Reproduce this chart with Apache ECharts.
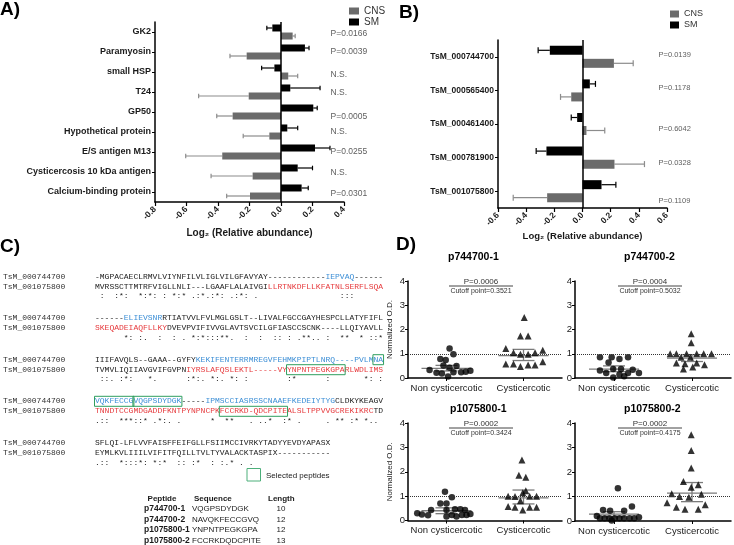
<!DOCTYPE html>
<html>
<head>
<meta charset="utf-8">
<script src="https://cdn.jsdelivr.net/npm/echarts@6.0.0/dist/echarts.min.js"></script>
<style>
html, body { margin: 0; padding: 0; background: #fff; }
#main { width: 734px; height: 545px; }
</style>
</head>
<body>
<div id="main"></div>
<script>
// A) proteins, log2 relative abundance
const proteinsA = ['GK2', 'Paramyosin', 'small HSP', 'T24', 'GP50', 'Hypothetical protein',
    'E/S antigen M13', 'Cysticercosis 10 kDa antigen', 'Calcium-binding protein'];
const smA = [-0.055, 0.152, -0.042, 0.059, 0.205, 0.04, 0.216, 0.106, 0.131];
const smErrA = [-0.09, 0.178, -0.123, 0.248, 0.23, 0.106, 0.311, 0.2, 0.173];
const cnsA = [0.074, -0.218, 0.046, -0.205, -0.307, -0.074, -0.373, -0.18, -0.197];
const cnsErrA = [0.09, -0.324, 0.106, -0.523, -0.408, -0.24, -0.605, -0.444, -0.345];
const pA = ['P=0.0166', 'P=0.0039', 'N.S.', 'N.S.', 'P=0.0005', 'N.S.', 'P=0.0255', 'N.S.', 'P=0.0301'];
const rangeA = [-0.8, 0.4];

// B) genes
const genesB = ['TsM_000744700', 'TsM_000565400', 'TsM_000461400', 'TsM_000781900', 'TsM_001075800'];
const smB = [-0.232, 0.052, -0.038, -0.256, 0.135];
const smErrB = [-0.315, 0.092, -0.08, -0.329, 0.237];
const cnsB = [0.223, -0.08, 0.028, 0.227, -0.251];
const cnsErrB = [0.36, -0.156, 0.158, 0.44, -0.492];
const pB = ['P=0.0139', 'P=0.1178', 'P=0.6042', 'P=0.0328', 'P=0.1109'];
const rangeB = [-0.6, 0.6];

// C) alignment
const seqNames = ['TsM_000744700', 'TsM_001075800'];
const alignBlocks = [
    [
        [['k', '-MGPACAECLRMVLVIYNFILVLIGLVILGFAVYAY------------'], ['b', 'IEPVAQ'], ['k', '------']],
        [['k', 'MVRSSCTTMTRFVIGLLNLI---LGAAFLALAIVGI'], ['r', 'LLRTNKDFLLKFATNLSERFLSQA']],
        ' :  :*:  *' + ':*: : *:* ' + '.:*.:*: .:' + '*: .      ' + '          ' + ' :::'
    ],
    [
        [['k', '------'], ['b', 'ELIEVSNR'], ['k', 'RTIATVVLFVLMGLGSLT--LIVALFGCCGAYHESPCLLATYFIFL']],
        [['r', 'SKEQADEIAQFLLKY'], ['k', 'DVEVPVIFIVVGLAVTSVCILGFIASCCSCNK----LLQIYAVLL']],
        '      *: :' + '.  :  : . ' + '*:*:::**. ' + ' :  :  :: ' + ': .**.. : ' + ' **  * ::*'
    ],
    [
        [['k', 'IIIFAVQLS--GAAA--GYFY'], ['b', 'KEKIFENTERRMREGVFEHMKPIPTLNRQ----PVLMNA']],
        [['k', 'TVMVLIQIIAVGVIFGVPN'], ['r', 'IYRSLAFQSLEKTL-----VYYNPNTPEGKGPARLWDLIMS']],
        ' ::. :*:  ' + ' *.      :' + '*:. *:. *:' + ' :        ' + ':*      : ' + '      *: :'
    ],
    [
        [['b', 'VQKFECCGVQGPSDYDGK'], ['k', '-----'], ['b', 'IPMSCCIASRSSCNAAEFKEDEIYTYG'], ['k', 'CLDKYKEAGV']],
        [['r', 'TNNDTCCGMDGADDFKNTPYNPNCPKFCCRKD-QDCPITEALSLTPPVVGCREKIKRC'], ['k', 'TD']],
        '.::  ***::' + '* .*:. .  ' + '    *  ** ' + '  . ..*  :' + '* .     . ' + '** :* *.. '
    ],
    [
        [['k', 'SFLQI-LFLVVFAISFFEIFGLLFSIIMCCIVRKYTADYYEVDYAPASX']],
        [['k', 'EYMLKVLIIILVIFITFQILLTVLTYVALACKTASPIX-----------']],
        '.::  *:::*' + ': *:*  :: ' + ':*  : :.* ' + '. .'
    ]
];
// selected peptides: [block, line, first char, length]
const peptideBoxes = [[2, 0, 58, 2], [2, 1, 40, 12], [3, 0, 0, 8], [3, 0, 8, 10], [3, 1, 26, 14]];
const pepNames = ['p744700-1', 'p744700-2', 'p1075800-1', 'p1075800-2'];
const pepSeqs = ['VQGPSDYDGK', 'NAVQKFECCGVQ', 'YNPNTPEGKGPA', 'FCCRKDQDCPITE'];
const pepLens = ['10', '12', '12', '13'];

// D) ELISA
const groupsD = ['Non cysticercotic', 'Cysticercotic'];
const yRangeD = [0, 4];
const titlesD = ['p744700-1', 'p744700-2', 'p1075800-1', 'p1075800-2'];
const pD = ['P=0.0006', 'P=0.0004', 'P=0.0002', 'P=0.0002'];
const cutoffD = ['Cutoff point=0.3521', 'Cutoff point=0.5032', 'Cutoff point=0.3424', 'Cutoff point=0.4175'];

const nonD1 = [[0.28, 0.33], [0.37, 0.22], [0.44, 0.19], [0.42, 0.78], [0.49, 0.74], [0.54, 1.22], [0.59, 0.98],
    [0.63, 0.49], [0.54, 0.42], [0.46, 0.52], [0.59, 0.24], [0.69, 0.24], [0.75, 0.26], [0.81, 0.30], [0.52, 0.06]];
const cysD1 = [[1.51, 2.50], [1.46, 1.73], [1.56, 1.73], [1.27, 1.22], [1.37, 1.04], [1.46, 0.98], [1.56, 0.98],
    [1.65, 1.04], [1.75, 1.14], [1.27, 0.58], [1.37, 0.58], [1.46, 0.47], [1.56, 0.54], [1.65, 0.54], [1.75, 0.67]];
const statD1 = [[0.5, 0.40, 0.29, 0.52], [1.5, 0.92, 0.72, 1.18]];

const nonD2 = [[0.32, 0.86], [0.47, 0.86], [0.57, 0.78], [0.68, 0.86], [0.43, 0.64], [0.32, 0.31], [0.40, 0.21],
    [0.49, 0.37], [0.59, 0.37], [0.68, 0.21], [0.74, 0.34], [0.82, 0.21], [0.49, 0.02], [0.57, 0.14], [0.63, 0.07]];
const cysD2 = [[1.49, 1.82], [1.49, 1.45], [1.22, 1.0], [1.30, 1.0], [1.43, 1.0], [1.56, 1.0], [1.65, 1.0], [1.75, 1.0],
    [1.36, 0.86], [1.48, 0.86], [1.30, 0.62], [1.41, 0.59], [1.56, 0.62], [1.66, 0.55], [1.39, 0.37], [1.51, 0.45]];
const statD2 = [[0.5, 0.37, 0.26, 0.50], [1.5, 0.82, 0.68, 0.96]];

const nonD3 = [[0.12, 0.30], [0.18, 0.25], [0.26, 0.22], [0.30, 0.43], [0.42, 0.70], [0.50, 0.70], [0.48, 1.18],
    [0.57, 0.95], [0.50, 0.43], [0.61, 0.46], [0.68, 0.46], [0.74, 0.43], [0.50, 0.16], [0.57, 0.23], [0.63, 0.16],
    [0.70, 0.23], [0.76, 0.23], [0.81, 0.27]];
const cysD3 = [[1.48, 2.48], [1.44, 1.86], [1.53, 1.77], [1.53, 1.22], [1.30, 1.0], [1.39, 0.98], [1.49, 1.14],
    [1.58, 1.0], [1.67, 1.0], [1.46, 0.81], [1.30, 0.57], [1.39, 0.54], [1.49, 0.43], [1.58, 0.54], [1.67, 0.54]];
const statD3 = [[0.5, 0.40, 0.28, 0.52], [1.5, 0.93, 0.68, 1.25]];

const nonD4 = [[0.55, 1.34], [0.36, 0.45], [0.45, 0.42], [0.63, 0.42], [0.73, 0.59], [0.28, 0.20], [0.32, 0.11],
    [0.38, 0.11], [0.44, 0.11], [0.51, 0.11], [0.57, 0.11], [0.63, 0.11], [0.70, 0.11], [0.76, 0.11], [0.82, 0.15],
    [0.47, 0.02]];
const cysD4 = [[1.49, 3.52], [1.49, 2.88], [1.49, 2.16], [1.39, 1.61], [1.58, 1.48], [1.49, 1.38], [1.24, 1.11],
    [1.62, 1.09], [1.34, 1.0], [1.46, 0.97], [1.18, 0.75], [1.30, 0.56], [1.41, 0.48], [1.58, 0.48], [1.67, 0.66]];
const statD4 = [[0.5, 0.28, 0.17, 0.38], [1.5, 1.14, 0.79, 1.57]];

const nonD = [nonD1, nonD2, nonD3, nonD4];
const cysD = [cysD1, cysD2, cysD3, cysD4];
const statD = [statD1, statD2, statD3, statD4];

// ---------------------------------------------------------------
const SANS = '"Liberation Sans", Arial, sans-serif';
const MONO = '"Liberation Mono", "Courier New", monospace';
const INK = '#1a1a1a';
const CNS_COLOR = '#6b6b6b';
const CNS_ERR = '#8c8c8c';

const chart = echarts.init(document.getElementById('main'));

//误差线 (one-sided whisker with cap)
function errBars(ax, vals, errs, offset, color, cap) {
    return {
        type: 'custom', xAxisIndex: ax, yAxisIndex: ax, silent: true, z: 1, clip: false,
        data: vals.map((v, i) => [i, v, errs[i]]),
        encode: { x: [1, 2], y: 0 },
        renderItem: function (params, api) {
            const a = api.coord([api.value(1), api.value(0)]);
            const b = api.coord([api.value(2), api.value(0)]);
            const y = a[1] + offset;
            const st = { stroke: color, lineWidth: 1.2 };
            return {
                type: 'group', children: [
                    { type: 'line', shape: { x1: a[0], y1: y, x2: b[0], y2: y }, style: st },
                    { type: 'line', shape: { x1: b[0], y1: y - cap, x2: b[0], y2: y + cap }, style: st }
                ]
            };
        }
    };
}

// p-value labels next to each row
function pLabels(ax, texts, xPos, fontSize, offsets) {
    return {
        type: 'scatter', name: 'p' + ax, xAxisIndex: ax, yAxisIndex: ax, symbolSize: 0, silent: true,
        data: texts.map((t, i) => ({ value: [xPos, i], label: { offset: [0, offsets[i]] } })),
        label: {
            show: true, position: 'right', distance: 0, fontSize: fontSize, color: '#333', fontFamily: SANS,
            formatter: p => texts[p.dataIndex]
        }
    };
}

function zeroLine() {
    return {
        silent: true, symbol: ['none', 'none'], label: { show: false },
        lineStyle: { color: '#000', type: 'solid', width: 1.5 },
        data: [{ xAxis: 0 }]
    };
}

// mean +/- SEM marks
function meanSem(xAx, yAx, rows) {
    return {
        type: 'custom', xAxisIndex: xAx, yAxisIndex: yAx, silent: true, z: 3, clip: false,
        data: rows, encode: { x: 0, y: [1, 2, 3] },
        renderItem: function (params, api) {
            const m = api.coord([api.value(0), api.value(1)]);
            const lo = api.coord([api.value(0), api.value(2)]);
            const hi = api.coord([api.value(0), api.value(3)]);
            const st = { stroke: '#7a7a7a', lineWidth: 1.3 };
            return {
                type: 'group', children: [
                    { type: 'line', shape: { x1: m[0] - 25, y1: m[1], x2: m[0] + 25, y2: m[1] }, style: st },
                    { type: 'line', shape: { x1: m[0] - 11, y1: lo[1], x2: m[0] + 11, y2: lo[1] }, style: st },
                    { type: 'line', shape: { x1: m[0] - 11, y1: hi[1], x2: m[0] + 11, y2: hi[1] }, style: st },
                    { type: 'line', shape: { x1: m[0], y1: lo[1], x2: m[0], y2: hi[1] }, style: st }
                ]
            };
        }
    };
}

const axisLineBlack = { show: true, onZero: false, lineStyle: { color: '#000', width: 1.5 } };
const tickBlack = { show: true, length: 4, lineStyle: { color: '#000', width: 1.2 } };

function valueAxisAB(grid, range, nameGap, nameSize) {
    return {
        type: 'value', gridIndex: grid, min: range[0], max: range[1], interval: 0.2,
        axisLine: axisLineBlack, axisTick: tickBlack, splitLine: { show: false },
        axisLabel: {
            rotate: 45, fontSize: 8.5, fontWeight: 'bold', color: INK, fontFamily: SANS, margin: 6,
            formatter: v => v.toFixed(1)
        },
        name: 'Log\u2082 (Relative abundance)', nameLocation: 'middle', nameGap: nameGap,
        nameTextStyle: { fontSize: nameSize, fontWeight: 'bold', color: INK, fontFamily: SANS }
    };
}

function catAxisAB(grid, data, fontSize) {
    return {
        type: 'category', gridIndex: grid, data: data, inverse: true,
        axisLine: axisLineBlack, axisTick: { show: true, alignWithLabel: true, length: 3, lineStyle: { color: '#000' } },
        axisLabel: { fontSize: fontSize, fontWeight: 'bold', color: INK, fontFamily: SANS, margin: 4, interval: 0 }
    };
}

// D grids
const dGrids = [
    { left: 408, top: 281, width: 154, height: 97 },
    { left: 575, top: 281, width: 156, height: 97 },
    { left: 408, top: 423, width: 154, height: 97.5 },
    { left: 575, top: 423, width: 156, height: 98 }
];

const grids = [
    { left: 155, top: 22, width: 189, height: 180 },
    { left: 498, top: 40, width: 169, height: 168 }
].concat(dGrids);

const xAxes = [valueAxisAB(0, rangeA, 26, 10), valueAxisAB(1, rangeB, 23, 9.5)];
const yAxes = [catAxisAB(0, proteinsA, 9), catAxisAB(1, genesB, 8.5)];
const series = [
    {
        type: 'bar', name: 'SM', xAxisIndex: 0, yAxisIndex: 0, data: smA, barWidth: 7, barGap: '15%',
        itemStyle: { color: '#000' }, markLine: zeroLine(), z: 2
    },
    { type: 'bar', name: 'CNS', xAxisIndex: 0, yAxisIndex: 0, data: cnsA, barWidth: 7, barGap: '15%', itemStyle: { color: CNS_COLOR }, z: 2 },
    errBars(0, smA, smErrA, -4, '#000', 2.3),
    errBars(0, cnsA, cnsErrA, 4, CNS_ERR, 2.3),
    pLabels(0, pA, 0.315, 8.5, [2, 0, 3, 1, 4.5, 0, 0, 0.5, 1.5]),
    {
        type: 'bar', name: 'SM', xAxisIndex: 1, yAxisIndex: 1, data: smB, barWidth: 9, barGap: '45%',
        itemStyle: { color: '#000' }, markLine: zeroLine(), z: 2
    },
    { type: 'bar', name: 'CNS', xAxisIndex: 1, yAxisIndex: 1, data: cnsB, barWidth: 9, barGap: '45%', itemStyle: { color: CNS_COLOR }, z: 2 },
    errBars(1, smB, smErrB, -6.5, '#000', 3),
    errBars(1, cnsB, cnsErrB, 6.5, CNS_ERR, 3),
    pLabels(1, pB, 0.54, 7.5, [-2, -2, 5, 5, 10])
];

dGrids.forEach((g, k) => {
    const gi = k + 2;
    const catIdx = xAxes.length;
    xAxes.push({
        type: 'category', gridIndex: gi, data: groupsD,
        axisLine: { show: true, lineStyle: { color: '#000', width: 1.5 } },
        axisTick: { show: true, alignWithLabel: true, length: 3, lineStyle: { color: '#000' } },
        axisLabel: { fontSize: 9.5, color: INK, fontFamily: SANS, margin: 5, interval: 0 }
    });
    xAxes.push({ type: 'value', gridIndex: gi, min: 0, max: 2, show: false });
    yAxes.push({
        type: 'value', gridIndex: gi, min: yRangeD[0], max: yRangeD[1], interval: 1,
        axisLine: { show: true, lineStyle: { color: '#000', width: 1.5 } },
        axisTick: { show: true, length: 3, lineStyle: { color: '#000' } },
        splitLine: { show: false },
        axisLabel: { fontSize: 9.5, color: INK, fontFamily: SANS, margin: 3 },
        name: (k % 2 === 0) ? 'Normalized O.D.' : '', nameLocation: 'middle', nameGap: 14,
        nameTextStyle: { fontSize: 8, color: INK, fontFamily: SANS }
    });
    const xv = catIdx + 1, yv = k + 2;
    series.push({
        type: 'scatter', name: 'non' + k, xAxisIndex: xv, yAxisIndex: yv, data: nonD[k],
        symbol: 'circle', symbolSize: 6.5, itemStyle: { color: '#000' }, silent: true, z: 4,
        markLine: {
            silent: true, symbol: ['none', 'none'], label: { show: false },
            lineStyle: { color: '#333', type: 'dotted', width: 1 }, data: [{ yAxis: 1 }]
        }
    });
    series.push({
        type: 'scatter', name: 'cys' + k, xAxisIndex: xv, yAxisIndex: yv, data: cysD[k],
        symbol: 'triangle', symbolSize: 7, itemStyle: { color: '#000' }, silent: true, z: 4
    });
    series.push(meanSem(xv, yv, statD[k]));
});

// ---- graphic texts
const graphics = [];
function txt(x, y, text, opt) {
    graphics.push({
        type: 'text', x: x, y: y, silent: true,
        style: Object.assign({ text: text, fill: INK, fontFamily: SANS, fontSize: 9, align: 'left', verticalAlign: 'middle' }, opt || {})
    });
}
function rule(x1, x2, y, color) {
    graphics.push({ type: 'line', silent: true, shape: { x1: x1, y1: y, x2: x2, y2: y }, style: { stroke: color || '#333', lineWidth: 1 } });
}

const panelFont = { fontSize: 19, fontWeight: 'bold', fill: '#000' };
txt(0, 10, 'A)', panelFont);
txt(399, 13, 'B)', panelFont);
txt(0, 247, 'C)', panelFont);
txt(396, 245, 'D)', panelFont);

// C) alignment
const SEQ_FONT = 8;
const ctx = document.createElement('canvas').getContext('2d');
ctx.font = SEQ_FONT + 'px ' + MONO;
const cw = ctx.measureText('MMMMMMMMMM').width / 10;
const seqX = 95;
const colors = { k: '#222', b: '#3d8fd6', r: '#e63a3d' };
alignBlocks.forEach((block, b) => {
    const y0 = 276.5 + 41.6 * b;
    [0, 1].forEach(li => {
        const y = y0 + li * 10;
        txt(3, y, seqNames[li], { fontFamily: MONO, fontSize: SEQ_FONT, fill: '#333' });
        let pos = 0;
        block[li].forEach(seg => {
            txt(seqX + pos * cw, y, seg[1], { fontFamily: MONO, fontSize: SEQ_FONT, fill: colors[seg[0]] });
            pos += seg[1].length;
        });
    });
    txt(seqX, y0 + 19.5, block[2], { fontFamily: MONO, fontSize: SEQ_FONT, fill: '#222' });
});
peptideBoxes.forEach(bx => {
    const y = 276.5 + 41.6 * bx[0] + bx[1] * 10;
    graphics.push({
        type: 'rect', silent: true,
        shape: { x: seqX + bx[2] * cw - 0.5, y: y - 5, width: bx[3] * cw + 1, height: 10 },
        style: { fill: 'none', stroke: '#2f9e5e', lineWidth: 1 }
    });
});
graphics.push({
    type: 'rect', silent: true, shape: { x: 247, y: 468.5, width: 13.5, height: 12.5 },
    style: { fill: 'none', stroke: '#4caf7a', lineWidth: 1 }
});
txt(266, 476, 'Selected peptides', { fontSize: 8 });

// peptide table
txt(162, 499, 'Peptide', { fontSize: 8, fontWeight: 'bold', align: 'center' });
txt(194, 499, 'Sequence', { fontSize: 8, fontWeight: 'bold' });
txt(268, 499, 'Length', { fontSize: 8, fontWeight: 'bold' });
pepNames.forEach((n, i) => {
    const y = 509 + 10.5 * i;
    txt(144, y, n, { fontSize: 8.5, fontWeight: 'bold' });
    txt(192, y, pepSeqs[i], { fontSize: 8 });
    txt(281, y, pepLens[i], { fontSize: 8, align: 'center' });
});

// D) titles and p values
const dTitleY = [257, 257, 409, 409];
const dTitleX = [448, 624, 450, 624];
dGrids.forEach((g, k) => {
    const cx = (k % 2 === 0) ? 481 : 650;
    const top = g.top;
    txt(dTitleX[k], dTitleY[k], titlesD[k], { fontSize: 10.5, fontWeight: 'bold', fill: '#000' });
    txt(cx, top + 1, pD[k], { fontSize: 8, align: 'center', fill: '#333' });
    rule(cx - 32, cx + 32, top + 5, '#444');
    txt(cx, top + 10.5, cutoffD[k], { fontSize: 7, align: 'center', fill: '#333' });
});

chart.setOption({
    animation: false,
    backgroundColor: '#fff',
    textStyle: { fontFamily: SANS },
    legend: [
        {
            data: ['CNS', 'SM'], left: 349, top: 6, padding: 0, orient: 'vertical', icon: 'rect', selectedMode: false,
            itemWidth: 10, itemHeight: 7, itemGap: 1, textStyle: { fontSize: 10, color: '#333', lineHeight: 10 }
        },
        {
            data: ['CNS', 'SM'], left: 670, top: 9, padding: 0, orient: 'vertical', icon: 'rect', selectedMode: false,
            itemWidth: 9, itemHeight: 7, itemGap: 1, textStyle: { fontSize: 9, color: '#333', lineHeight: 10 }
        }
    ],
    grid: grids,
    xAxis: xAxes,
    yAxis: yAxes,
    series: series,
    graphic: graphics
});
</script>
</body>
</html>
